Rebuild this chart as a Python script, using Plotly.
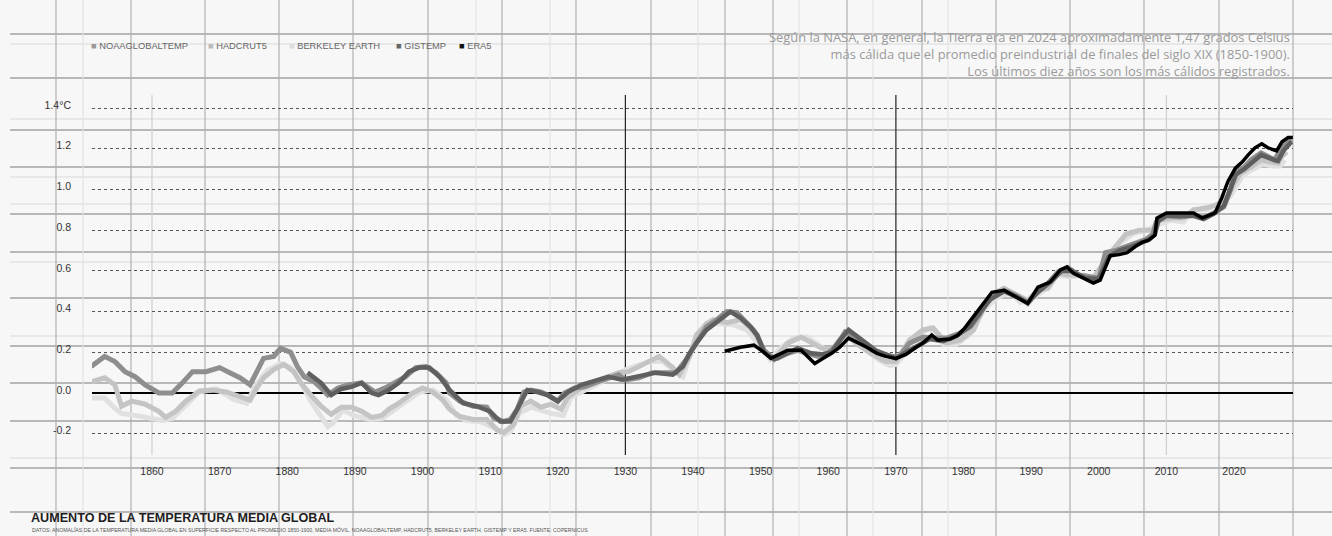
import plotly.graph_objects as go

# ---------------- data ----------------
noaa_years = [1851, 1853, 1854.5, 1856, 1857.5, 1859, 1861, 1863, 1864.5, 1866, 1868, 1870, 1871.5, 1873, 1874.5,
              1876.5, 1878, 1879, 1880.5, 1881.5, 1882.5, 1884, 1885, 1886, 1887.5, 1889, 1891, 1893, 1894.5, 1896,
              1897.5, 1899, 1900.5, 1902, 1903.5, 1904, 1905.5, 1907.5, 1909.5, 1910.5, 1912, 1913, 1914, 1915, 1916,
              1917.5, 1918.5, 1920, 1921, 1922.5, 1924, 1925.5, 1927.5, 1929, 1930, 1932, 1934, 1936, 1937.5, 1939,
              1940, 1941, 1942, 1943.5, 1945, 1946.5, 1947.5, 1948.5, 1949.5, 1950.5, 1951.5, 1952.5, 1954, 1955.5,
              1957, 1958.5, 1960, 1961.5, 1962.5, 1963.5, 1965, 1966.5, 1968, 1969.5, 1970.5, 1972, 1974, 1975.5,
              1977.5, 1979.5, 1981, 1982.5, 1984, 1986, 1988, 1989.5, 1991, 1992.5, 1994, 1995.5, 1997, 1998.5, 2000,
              2001, 2002.5, 2004, 2005.5, 2007, 2008, 2008.5, 2010, 2012, 2014, 2015.5, 2017, 2018.5, 2019.5, 2020,
              2021.5, 2022.5, 2024, 2025, 2026, 2027, 2028.5]
noaa_values = [0.13, 0.18, 0.155, 0.105, 0.08, 0.04, 0.0, 0.0, 0.05, 0.105, 0.105, 0.125, 0.10, 0.075, 0.04,
               0.17, 0.18, 0.22, 0.20, 0.13, 0.08, 0.055, 0.025, -0.01, 0.025, 0.04, 0.05, 0.005, 0.025, 0.055,
               0.08, 0.125, 0.13, 0.10, 0.05, 0.0, -0.04, -0.065, -0.07, -0.12, -0.14, -0.13, -0.08, 0.005, 0.015,
               0.005, -0.01, -0.04, 0.0, 0.025, 0.03, 0.05, 0.075, 0.09, 0.065, 0.075, 0.10, 0.10, 0.10, 0.165,
               0.22, 0.28, 0.325, 0.36, 0.40, 0.395, 0.36, 0.325, 0.28, 0.21, 0.18, 0.17, 0.195, 0.21,
               0.195, 0.18, 0.195, 0.245, 0.30, 0.285, 0.25, 0.21, 0.19, 0.18, 0.18, 0.245, 0.275, 0.27,
               0.27, 0.295, 0.325, 0.39, 0.475, 0.505, 0.475, 0.44, 0.50, 0.54, 0.595, 0.615, 0.58, 0.57, 0.565,
               0.69, 0.70, 0.72, 0.74, 0.755, 0.78, 0.84, 0.875, 0.865, 0.875, 0.86, 0.885, 0.915, 1.0, 1.08,
               1.11, 1.145, 1.18, 1.16, 1.145, 1.205, 1.245]

hadcrut_years = [1851, 1853, 1854.5, 1855.5, 1857, 1859, 1861, 1862, 1863.5, 1865, 1867, 1869, 1871, 1873, 1874.5,
                 1875.5, 1876.5, 1878, 1879.5, 1881, 1882, 1883.5, 1885, 1886.5, 1888, 1889.5, 1891, 1892.5, 1894,
                 1895, 1896.5, 1898.5, 1900, 1901.5, 1903, 1904, 1905.5, 1907.5, 1909.5, 1911, 1912, 1913.5, 1914.5,
                 1916, 1917.5, 1919, 1920.5, 1921.5, 1923.5, 1925, 1927.5, 1929, 1930.5, 1932, 1933.5, 1935, 1937,
                 1938, 1939.5, 1940.5, 1942, 1943, 1945, 1947, 1949, 1950.5, 1952, 1954, 1956, 1957.5, 1959, 1960.5,
                 1962, 1963, 1964.5, 1966.5, 1968.5, 1970, 1972, 1974, 1975.5, 1977.5, 1979.5, 1981.5, 1983, 1984.5,
                 1986, 1988, 1989.5, 1991, 1992.5, 1994, 1995.5, 1997, 1999, 2000.5, 2002, 2004, 2006, 2008, 2009,
                 2011, 2012.5, 2014, 2016, 2017.5, 2019, 2020, 2021, 2022.5, 2024, 2025.5, 2026.5, 2027, 2027.8]
hadcrut_values = [0.055, 0.075, 0.04, -0.065, -0.04, -0.055, -0.09, -0.12, -0.09, -0.04, 0.01, 0.015, 0.005, -0.02, -0.035,
                  0.025, 0.075, 0.115, 0.14, 0.105, 0.05, -0.01, -0.065, -0.105, -0.07, -0.07, -0.09, -0.12, -0.11,
                  -0.08, -0.05, 0.0, 0.025, 0.005, -0.035, -0.08, -0.115, -0.13, -0.13, -0.18, -0.195, -0.155, -0.065,
                  -0.04, -0.07, -0.055, -0.08, -0.02, 0.025, 0.05, 0.08, 0.10, 0.105, 0.13, 0.155, 0.18, 0.125,
                  0.09, 0.18, 0.285, 0.34, 0.36, 0.345, 0.36, 0.31, 0.21, 0.165, 0.245, 0.275, 0.25, 0.22, 0.21,
                  0.275, 0.275, 0.235, 0.19, 0.155, 0.155, 0.26, 0.31, 0.32, 0.245, 0.26, 0.31, 0.425, 0.49,
                  0.515, 0.48, 0.455, 0.505, 0.515, 0.59, 0.58, 0.58, 0.555, 0.63, 0.70, 0.78, 0.80, 0.80, 0.85,
                  0.86, 0.86, 0.90, 0.91, 0.925, 0.965, 1.03, 1.08, 1.11, 1.145, 1.135, 1.13, 1.16, 1.185]

berkeley_years = [1851, 1853, 1854.5, 1855.5, 1857.5, 1859.5, 1861.5, 1863, 1865, 1867, 1869.5, 1872, 1874, 1875.5,
                  1877, 1879, 1880.5, 1882, 1883.5, 1885, 1886, 1886.7, 1888.2, 1890.2, 1892.3, 1894, 1895.7, 1897.7,
                  1899.6, 1901.6, 1903.6, 1905, 1906.5, 1908.5, 1910.5, 1912, 1913, 1914.4, 1916.2, 1917.5, 1919,
                  1920.8, 1922, 1923.8, 1925.8, 1928, 1930.1, 1932.2, 1933.6, 1935.5, 1937, 1938.5, 1940, 1942, 1944,
                  1946, 1948, 1950, 1951.4, 1952.9, 1954.9, 1956.9, 1958.8, 1960.3, 1962.2, 1963.7, 1965.7, 1967.6,
                  1969.1, 1970, 1971.5, 1972.6, 1975, 1977, 1979, 1981, 1983, 1985, 1987, 1988.4, 1990.4, 1992.3,
                  1993.8, 1995.8, 1997.8, 1999.7, 2001.2, 2003.2, 2005.2, 2007.1, 2008.6, 2010.6, 2012.5, 2014, 2016,
                  2017.9, 2019.4, 2020.4, 2021.3, 2022.8, 2024.3, 2025.8, 2026.8, 2027.5]
berkeley_values = [-0.025, -0.025, -0.075, -0.10, -0.11, -0.12, -0.135, -0.125, -0.06, 0.005, 0.02, -0.03, -0.05, 0.045,
                   0.11, 0.145, 0.125, 0.05, -0.04, -0.11, -0.165, -0.15, -0.085, -0.115, -0.13, -0.125, -0.085, -0.04,
                   0.005, 0.015, -0.035, -0.11, -0.135, -0.14, -0.17, -0.205, -0.19, -0.095, -0.07, -0.085, -0.10,
                   -0.11, -0.02, 0.01, 0.045, 0.08, 0.115, 0.14, 0.155, 0.155, 0.115, 0.08, 0.23, 0.34, 0.34,
                   0.335, 0.31, 0.23, 0.165, 0.22, 0.27, 0.275, 0.23, 0.195, 0.285, 0.275, 0.21, 0.16,
                   0.135, 0.14, 0.20, 0.27, 0.32, 0.24, 0.24, 0.29, 0.41, 0.47, 0.495, 0.445, 0.47, 0.515,
                   0.58, 0.57, 0.58, 0.555, 0.66, 0.74, 0.785, 0.80, 0.825, 0.85, 0.84, 0.90, 0.90,
                   0.935, 0.965, 1.02, 1.07, 1.10, 1.125, 1.115, 1.115, 1.145]

gistemp_years = [1883, 1885, 1886.5, 1888, 1889.5, 1891, 1892.5, 1893.5, 1895, 1896.5, 1898, 1899.5, 1901, 1902.5,
                 1904, 1905, 1906, 1908, 1910, 1911.5, 1913, 1914, 1915.5, 1917, 1918.5, 1920, 1921.5, 1923.5, 1925,
                 1927.5, 1929.5, 1932, 1934.5, 1937, 1938.5, 1939.5, 1940.5, 1942, 1944, 1945.5, 1947, 1948.5, 1949.5,
                 1950.5, 1952, 1954, 1955.5, 1957.5, 1959, 1960.5, 1961.5, 1963, 1964, 1965.5, 1967, 1968.5, 1970,
                 1971.5, 1973, 1975, 1977, 1979, 1981, 1982.5, 1984, 1986, 1988, 1989.5, 1991, 1993, 1994.5, 1996,
                 1998, 2000, 2001.5, 2003, 2004.5, 2006, 2007.5, 2008.3, 2008.8, 2010, 2012, 2014, 2015.5, 2017,
                 2018.5, 2019.5, 2020.3, 2021.5, 2023, 2024, 2025.5, 2026.5, 2027.3, 2028.5]
gistemp_values = [0.10, 0.05, -0.01, 0.02, 0.03, 0.05, 0.0, -0.01, 0.015, 0.05, 0.105, 0.125, 0.125, 0.08,
                  0.015, -0.02, -0.05, -0.065, -0.09, -0.14, -0.14, -0.08, 0.015, 0.005, -0.01, -0.04, 0.005, 0.04, 0.055,
                  0.08, 0.065, 0.08, 0.10, 0.09, 0.13, 0.195, 0.245, 0.31, 0.36, 0.40, 0.37, 0.325, 0.285,
                  0.20, 0.165, 0.195, 0.22, 0.195, 0.19, 0.20, 0.25, 0.31, 0.285, 0.245, 0.21, 0.19, 0.17,
                  0.20, 0.23, 0.265, 0.255, 0.28, 0.33, 0.40, 0.46, 0.50, 0.47, 0.445, 0.495, 0.55, 0.60, 0.60,
                  0.565, 0.56, 0.67, 0.70, 0.715, 0.735, 0.755, 0.78, 0.845, 0.87, 0.87, 0.87, 0.855, 0.88,
                  0.92, 1.0, 1.075, 1.10, 1.14, 1.17, 1.15, 1.14, 1.19, 1.235]

era5_years = [1944.7, 1947, 1949, 1950.5, 1951.5, 1954, 1956, 1957.3, 1958, 1959.2, 1960.5, 1961.7, 1963, 1964.2,
              1965.7, 1967.2, 1968.5, 1970, 1971.5, 1973, 1974, 1975.3, 1976.2, 1978, 1979.2, 1980.2, 1981.3, 1982.2,
              1984.2, 1986, 1988, 1989.5, 1991, 1992.8, 1994.3, 1995.3, 1996.2, 1999.2, 2000.2, 2001.7, 2003, 2004.2,
              2005.4, 2006.4, 2007.3, 2008.3, 2008.6, 2009.3, 2010, 2012, 2014, 2015.3, 2016.2, 2017.2, 2018.2,
              2019.1, 2020.2, 2021.2, 2022.1, 2023.1, 2024.1, 2025, 2026.3, 2027.1, 2028, 2028.7]
era5_values = [0.205, 0.225, 0.235, 0.20, 0.17, 0.21, 0.21, 0.165, 0.145, 0.17, 0.195, 0.225, 0.27, 0.25,
               0.225, 0.195, 0.18, 0.17, 0.19, 0.225, 0.245, 0.285, 0.26, 0.265, 0.285, 0.32, 0.37, 0.41,
               0.495, 0.505, 0.47, 0.44, 0.52, 0.545, 0.605, 0.62, 0.59, 0.54, 0.555, 0.675, 0.68, 0.69,
               0.72, 0.74, 0.75, 0.775, 0.86, 0.875, 0.885, 0.885, 0.885, 0.86, 0.87, 0.885, 0.96,
               1.04, 1.105, 1.135, 1.17, 1.205, 1.225, 1.205, 1.19, 1.235, 1.255, 1.255]

series_names = ["NOAAGLOBALTEMP", "HADCRUT5", "BERKELEY EARTH", "GISTEMP", "ERA5"]
x_tick_years = [1860, 1870, 1880, 1890, 1900, 1910, 1920, 1930, 1940, 1950, 1960, 1970, 1980, 1990, 2000, 2010, 2020]
x_tick_labels = [str(y) for y in x_tick_years]
y_tick_values = [-0.2, 0.0, 0.2, 0.4, 0.6, 0.8, 1.0, 1.2, 1.4]
y_tick_labels = ["-0.2", "0.0", "0.2", "0.4", "0.6", "0.8", "1.0", "1.2", "1.4°C"]
ref_years_dark = [1930, 1970]
ref_years_light = [1860, 2010]

title_text = "AUMENTO DE LA TEMPERATURA MEDIA GLOBAL"
source_text = ("DATOS: ANOMALÍAS DE LA TEMPERATURA MEDIA GLOBAL EN SUPERFICIE RESPECTO AL PROMEDIO 1850-1900, "
               "MEDIA MÓVIL. NOAAGLOBALTEMP, HADCRUT5, BERKELEY EARTH, GISTEMP Y ERA5. FUENTE: COPERNICUS")
note_lines = ["Según la NASA, en general, la Tierra era en 2024 aproximadamente 1,47 grados Celsius",
              "más cálida que el promedio preindustrial de finales del siglo XIX (1850-1900).",
              "Los últimos diez años son los más cálidos registrados."]

# ---------------- layout geometry ----------------
W, H = 1332, 536
L, R, T, B = 92, 39, 95, 81
PW, PH = W - L - R, H - T - B


def px(xp):
    return (xp - L) / PW


def py(yp):
    return (H - B - yp) / PH


colors = {"NOAAGLOBALTEMP": "#8e8e8e", "HADCRUT5": "#c4c4c4", "BERKELEY EARTH": "#e0e0e0",
          "GISTEMP": "#5f5f5f", "ERA5": "#000000"}
legend_marker = {"NOAAGLOBALTEMP": "#999999", "HADCRUT5": "#bbbbbb", "BERKELEY EARTH": "#dddddd",
                 "GISTEMP": "#666666", "ERA5": "#111111"}

fig = go.Figure()
draw_order = [("BERKELEY EARTH", berkeley_years, berkeley_values, 5),
              ("HADCRUT5", hadcrut_years, hadcrut_values, 5),
              ("NOAAGLOBALTEMP", noaa_years, noaa_values, 5),
              ("GISTEMP", gistemp_years, gistemp_values, 4.5),
              ("ERA5", era5_years, era5_values, 3.5)]
for name, xs, ys, w in draw_order:
    fig.add_trace(go.Scatter(x=xs, y=ys, mode="lines", name=name, showlegend=False,
                             line=dict(color=colors[name], width=w)))

shapes = []
# decorative layout grid (horizontal)
for yy in [34, 78, 130, 167, 214, 252, 298, 346, 383, 421, 468, 512]:
    shapes.append(dict(type="line", xref="paper", yref="paper", x0=px(10), x1=px(W), y0=py(yy), y1=py(yy),
                       line=dict(color="#a3a3a3", width=1.5), layer="below"))
for yy in [44, 119, 177, 204, 262, 336, 458]:
    shapes.append(dict(type="line", xref="paper", yref="paper", x0=px(10), x1=px(W), y0=py(yy), y1=py(yy),
                       line=dict(color="#e3e3e3", width=1.5), layer="below"))
# decorative layout grid (vertical)
for xx in [56, 131, 205, 279, 353, 428, 502, 576, 651, 725, 773, 847, 922, 996, 1070, 1144, 1219, 1293]:
    shapes.append(dict(type="line", xref="paper", yref="paper", x0=px(xx), x1=px(xx), y0=py(0), y1=py(H),
                       line=dict(color="#b0b0b0", width=1.2), layer="below"))
for xx in [83, 476, 550, 698, 799, 873, 948]:
    shapes.append(dict(type="line", xref="paper", yref="paper", x0=px(xx), x1=px(xx), y0=py(0), y1=py(H),
                       line=dict(color="#e3e3e3", width=1.2), layer="below"))
# reference year lines inside plot
for yr in ref_years_dark:
    shapes.append(dict(type="line", xref="x", yref="paper", x0=yr, x1=yr, y0=0, y1=1,
                       line=dict(color="#222222", width=1.2), layer="below"))
for yr in ref_years_light:
    shapes.append(dict(type="line", xref="x", yref="paper", x0=yr, x1=yr, y0=0, y1=1,
                       line=dict(color="#cfcfcf", width=1.2), layer="below"))

annotations = []
# legend
legend_left = [89, 206, 287, 394, 457]
for name, xl in zip(series_names, legend_left):
    annotations.append(dict(xref="paper", yref="paper", x=px(xl), y=py(46), xanchor="left", yanchor="middle",
                            showarrow=False,
                            text=f"<span style='color:{legend_marker[name]}'>■</span> {name}",
                            font=dict(family="Liberation Sans, Arial", size=9.3, color="#666666")))
# note (right)
annotations.append(dict(xref="paper", yref="paper", x=px(1292), y=py(54), xanchor="right", yanchor="middle",
                        align="right", showarrow=False, text="<br>".join(note_lines),
                        font=dict(family="Open Sans, Roboto", size=12.9, color="#9a9a9a")))
# title and source
annotations.append(dict(xref="paper", yref="paper", x=px(29), y=py(518), xanchor="left", yanchor="middle",
                        showarrow=False, text=f"<b>{title_text}</b>",
                        font=dict(family="Liberation Sans, Arial", size=12.6, color="#1e1e1e")))
annotations.append(dict(xref="paper", yref="paper", x=px(30), y=py(530), xanchor="left", yanchor="middle",
                        showarrow=False, text=source_text,
                        font=dict(family="Liberation Sans, Arial", size=5.2, color="#555555")))

fig.update_layout(
    width=W, height=H,
    margin=dict(l=L, r=R, t=T, b=B, pad=0),
    paper_bgcolor="#f7f7f7", plot_bgcolor="rgba(0,0,0,0)",
    showlegend=False,
    shapes=shapes, annotations=annotations,
    xaxis=dict(range=[1851.13, 2028.72], showgrid=False, zeroline=False, showline=False,
               tickmode="array", tickvals=x_tick_years, ticktext=x_tick_labels, ticks="",
               ticklabelstandoff=8,
               tickfont=dict(family="Liberation Sans, Arial", size=10.5, color="#333333")),
    yaxis=dict(range=[-0.3046, 1.4644], showgrid=True, griddash="dot", gridcolor="#555555", gridwidth=1,
               zeroline=True, zerolinecolor="#000000", zerolinewidth=1.5, showline=False,
               tickmode="array", tickvals=y_tick_values, ticktext=y_tick_labels, ticks="",
               ticklabelstandoff=20, ticklabelshift=-3,
               tickfont=dict(family="Liberation Sans, Arial", size=10.5, color="#333333")),
)

fig.write_html("out.html", config={"displayModeBar": False},
               post_script="document.body.style.margin='0';document.body.style.background='#f7f7f7';")
